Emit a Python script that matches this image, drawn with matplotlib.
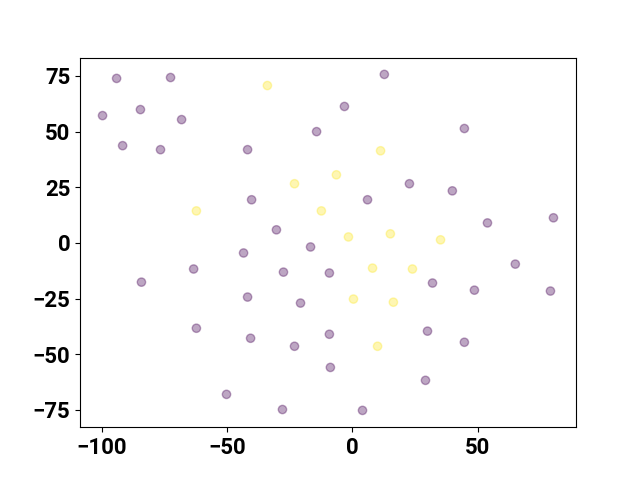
import matplotlib
matplotlib.use("Agg")
import matplotlib.pyplot as plt

# purple group (label 0)
x0 = [-99.6, -94.0, -91.6, -84.5, -84.1, -76.5, -72.5, -68.1, -63.3, -62.2,
      -50.2, -43.4, -41.8, -41.8, -40.6, -40.2, -30.3, -27.5, -27.9, -23.1,
      -20.7, -16.7, -14.3, -9.2, -9.2, -8.8, -3.2, 4.0, 6.0, 12.7,
      22.7, 31.9, 29.9, 29.1, 39.8, 44.6, 44.6, 48.6, 53.8, 64.9,
      78.9, 80.1]
y0 = [57.2, 73.9, 43.7, 59.9, -17.6, 41.9, 74.3, 55.4, -11.7, -38.3,
      -68.0, -4.5, 41.9, -24.3, -42.8, 19.4, 5.9, -13.1, -74.8, -46.4,
      -27.0, -1.8, 50.0, -13.5, -41.0, -55.9, 61.3, -75.2, 19.4, 75.7,
      26.6, -18.0, -39.6, -61.7, 23.4, 51.4, -44.6, -21.2, 9.0, -9.5,
      -21.6, 11.3]

# yellow group (label 1)
x1 = [-33.9, -62.2, -23.1, -12.4, -6.4, -1.6, 0.4, 8.0, 11.2, 10.0,
      15.1, 16.3, 23.9, 35.1]
y1 = [70.7, 14.4, 26.6, 14.4, 30.6, 2.7, -25.2, -11.3, 41.4, -46.4,
      4.1, -26.6, -11.7, 1.4]

xs = x0 + x1
ys = y0 + y1
labels = [0] * len(x0) + [1] * len(x1)

plt.rcParams["font.family"] = ["Roboto", "DejaVu Sans"]
plt.rcParams["font.weight"] = "bold"
plt.rcParams["font.size"] = 16

fig, ax = plt.subplots(figsize=(6.4, 4.8), dpi=100)
ax.scatter(xs, ys, c=labels, cmap="viridis", alpha=0.35)
ax.set_xticks([-100, -50, 0, 50])
ax.set_yticks([-75, -50, -25, 0, 25, 50, 75])

fig.savefig("out.png")
